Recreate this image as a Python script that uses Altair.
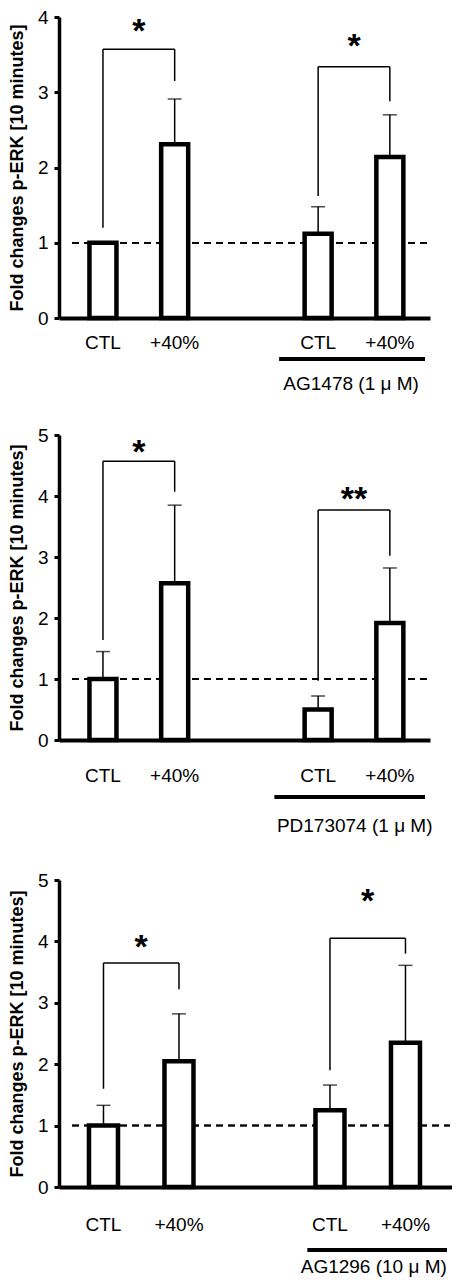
import altair as alt
import pandas as pd

# ---------------- data ----------------
categories = ["CTL", "+40%", "CTL", "+40%"]
slots = [1, 2, 4, 5]          # category slots (slot 3 is the gap between groups)

p1_mean = [1.00, 2.31, 1.12, 2.14]
p1_sd = [0.00, 0.60, 0.36, 0.56]
p2_mean = [1.00, 2.57, 0.50, 1.92]
p2_sd = [0.45, 1.28, 0.22, 0.90]
p3_mean = [1.00, 2.05, 1.25, 2.35]
p3_sd = [0.33, 0.77, 0.41, 1.26]

inhibitors = ["AG1478 (1 μ M)", "PD173074 (1 μ M)", "AG1296 (10 μ M)"]
y_max = [4, 5, 5]

# significance brackets: (left slot, right slot, bracket level, left leg end, right leg end, marker, marker level)
p1_sig = [(1, 2, 3.57, 1.20, 3.15, "*", 3.90), (4, 5, 3.34, 1.62, 2.88, "*", 3.70)]
p2_sig = [(1, 2, 4.57, 1.64, 4.07, "*", 4.82), (4, 5, 3.77, 0.97, 3.02, "**", 4.05)]
p3_sig = [(1, 2, 3.65, 1.60, 3.22, "*", 4.00), (4, 5, 4.05, 1.90, 3.80, "*", 4.75)]

YTITLE = "Fold changes p-ERK [10 minutes]"
FONT = "Liberation Sans"


def panel(mean, sd, sig, ymax, inhib, width, height, xdom, bar_size,
          cat_dy, line_dy, lab_dy, span, lab_x):
    df = pd.DataFrame({
        "cat": categories,
        "slot": slots,
        "mean": mean,
        "top": [m + s for m, s in zip(mean, sd)],
    })
    xscale = alt.Scale(domain=xdom, nice=False, zero=False)
    yscale = alt.Scale(domain=[0, ymax], nice=False, zero=True)
    xaxis = alt.Axis(labels=False, ticks=False, grid=False, title=None,
                     domainWidth=4, domainColor="black")
    yaxis = alt.Axis(values=list(range(ymax + 1)), format="d", title=YTITLE,
                     grid=False,
                     labelFont=FONT, labelFontSize=19, labelColor="black",
                     labelPadding=6, tickColor="black", tickWidth=3, tickSize=5,
                     domainColor="black", domainWidth=3.5,
                     titleFont=FONT, titleFontSize=18, titleFontWeight="bold",
                     titleColor="black", titlePadding=11)

    def X(f):
        return alt.X(f, type="quantitative", scale=xscale, axis=xaxis)

    def Y(f):
        return alt.Y(f, type="quantitative", scale=yscale, axis=yaxis)

    base = alt.Chart(df)
    err = base.mark_rule(color="black", strokeWidth=1.5).encode(
        x=X("slot"), y=Y("mean"), y2="top")
    cap = base.mark_tick(orient="horizontal", size=14, thickness=1.5,
                         color="black").encode(x=X("slot"), y=Y("top"))
    bars = base.mark_bar(size=bar_size, fill="white", stroke="black",
                         strokeWidth=4.5, strokeJoin="miter").encode(
        x=X("slot"), y=Y("mean"))
    dash = alt.Chart(df).mark_rule(color="black", strokeWidth=1.5,
                                   strokeDash=[7, 5]).encode(
        x=alt.value(13), x2=alt.value(width - 2), y=alt.datum(1))

    segs = []
    stars = []
    for (a, b, lvl, la, lb, mk, my) in sig:
        segs.append({"x": a, "x2": b, "y": lvl, "y2": lvl})
        segs.append({"x": a, "x2": a, "y": lvl, "y2": la})
        segs.append({"x": b, "x2": b, "y": lvl, "y2": lb})
        stars.append({"x": (a + b) / 2, "y": my, "t": mk})
    brackets = alt.Chart(pd.DataFrame(segs)).mark_rule(
        color="black", strokeWidth=1.5).encode(
        x=X("x"), x2="x2", y=Y("y"), y2="y2")
    star_txt = alt.Chart(pd.DataFrame(stars)).mark_text(
        font=FONT, fontSize=34, fontWeight="bold", baseline="alphabetic",
        dy=17, color="black").encode(x=X("x"), y=Y("y"), text="t:N")

    cats = base.mark_text(font=FONT, fontSize=19, baseline="middle",
                          color="black").encode(
        x=X("slot"), y=alt.value(height + cat_dy), text="cat:N")
    gdf = pd.DataFrame({"gx": [span[0]], "gx2": [span[1]], "lx": [lab_x],
                        "name": [inhib]})
    gline = alt.Chart(gdf).mark_rule(color="black", strokeWidth=4).encode(
        x=X("gx"), x2="gx2", y=alt.value(height + line_dy))
    glab = alt.Chart(gdf).mark_text(font=FONT, fontSize=19, baseline="middle",
                                    color="black").encode(
        x=X("lx"), y=alt.value(height + lab_dy), text="name:N")

    return alt.layer(dash, err, cap, bars, brackets, star_txt, cats, gline,
                     glab).properties(width=width, height=height)


c1 = panel(p1_mean, p1_sd, p1_sig, y_max[0], inhibitors[0], 371, 301,
           [0.457, 5.49], 27, 25, 41, 66, (3.456, 5.49), 4.46)
c2 = panel(p2_mean, p2_sd, p2_sig, y_max[1], inhibitors[1], 371, 305,
           [0.457, 5.49], 27, 36, 57, 86, (3.39, 5.49), 4.51)
c3 = panel(p3_mean, p3_sd, p3_sig, y_max[2], inhibitors[2], 393, 307,
           [0.477, 5.55], 29, 38, 63, 80, (3.70, 5.55), 4.58)

top_pair = alt.vconcat(c1, c2, spacing=32)
chart = alt.vconcat(top_pair, c3, spacing=35).properties(
    padding={"left": 0, "top": 0, "right": 0, "bottom": 0}
).configure_view(stroke=None)

chart.save("out.html", embed_options={"renderer": "svg", "actions": False})
